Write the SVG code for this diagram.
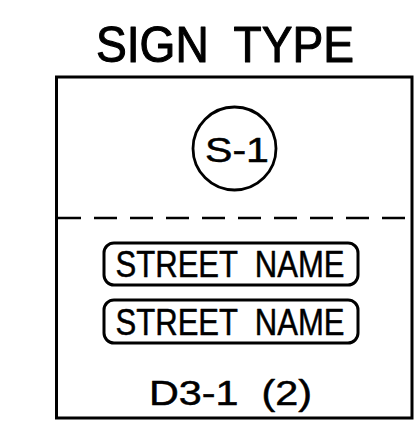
<svg xmlns="http://www.w3.org/2000/svg" width="415" height="434" viewBox="0 0 415 434">
<style>
text{font-family:"Liberation Sans",Arial,sans-serif;fill:#000;stroke:#000;stroke-linejoin:round;white-space:pre}
.ln{fill:none;stroke:#000}
</style>
<rect width="415" height="434" fill="#fff"/>
<g id="title"><text x="96" y="62" font-size="50" stroke-width="1.1" textLength="258" lengthAdjust="spacingAndGlyphs">SIGN  TYPE</text></g>
<g id="frame">
<path class="ln" d="M56.5,418 V77 H412 V418 Z" stroke-width="3"/>
</g>
<g id="connectors">
<line class="ln" x1="55" y1="218" x2="413" y2="218" stroke-width="2.5" stroke-dasharray="26 13 23 13 23 13 23 13 23 13 23 13 23 13 23 13 23 13 23 13"/>
</g>
<g id="s1">
<circle class="ln" cx="234.5" cy="148.5" r="41.5" stroke-width="2.8"/>
<text x="205" y="162" font-size="35" stroke-width="0.5" textLength="64" lengthAdjust="spacingAndGlyphs">S-1</text>
</g>
<g id="street1">
<rect class="ln" x="104" y="243" width="254" height="42" rx="10" stroke-width="3"/>
<text x="115.5" y="277" font-size="37.5" stroke-width="0.5" textLength="229" lengthAdjust="spacingAndGlyphs">STREET  NAME</text>
</g>
<g id="street2">
<rect class="ln" x="104" y="300" width="254" height="43" rx="10" stroke-width="3"/>
<text x="115.5" y="335" font-size="37.5" stroke-width="0.5" textLength="229" lengthAdjust="spacingAndGlyphs">STREET  NAME</text>
</g>
<g id="d31"><text x="149" y="405" font-size="35" stroke-width="0.5" textLength="163" lengthAdjust="spacingAndGlyphs">D3-1  (2)</text></g>
</svg>
